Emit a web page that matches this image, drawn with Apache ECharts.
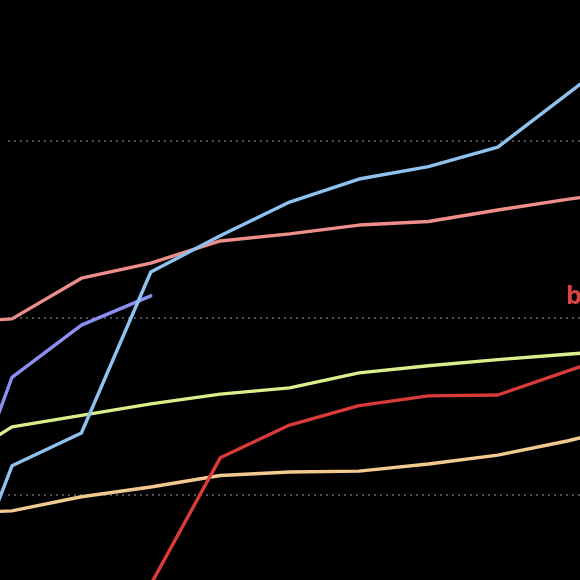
<!DOCTYPE html>
<html>
<head>
<meta charset="utf-8">
<script src="https://cdn.jsdelivr.net/npm/echarts@6/dist/echarts.min.js"></script>
<style>
html,body{margin:0;padding:0;background:#000;width:580px;height:580px;overflow:hidden;position:relative;}
#chart{position:absolute;left:-80px;top:-40px;width:740px;height:720px;}
</style>
</head>
<body>
<div id="chart"></div>
<script>
// x positions (index steps); 0 and 10 lie just outside the visible window
var xIndex = [0, 1, 2, 3, 4, 5, 6, 7, 8, 9, 10];
var pinkValues   = [39.4, 39.9, 44.5, 46.2, 48.7, 49.5, 50.5, 50.9, 52.2, 53.4, 54.5];
var blueValues   = [2.9, 23.3, 27.0, 45.2, 49.3, 53.1, 55.7, 57.1, 59.3, 65.3, 71.3];
var purpleValues = [11.9, 33.3, 39.2, 42.5, null, null, null, null, null, null, null];
var greenValues  = [22.8, 27.7, 29.0, 30.3, 31.4, 32.1, 33.8, 34.6, 35.3, 35.9, 36.5];
var tanValues    = [17.9, 18.2, 19.8, 20.9, 22.2, 22.6, 22.7, 23.5, 24.5, 26.1, 28.0];
var redValues    = [null, null, null, 9.9, 24.2, 27.9, 30.1, 31.2, 31.3, 34.0, 36.6];
var yTicks = [0, 20, 40, 60, 80];
var labelText = 'b';

function pairs(vals){
  var out = [];
  for (var i = 0; i < xIndex.length; i++) {
    out.push([xIndex[i], vals[i]]);
  }
  return out;
}
function mk(name, vals, color){
  return {
    name: name, type: 'line', data: pairs(vals),
    xAxisIndex: 0, yAxisIndex: 0,
    showSymbol: false, symbol: 'none', connectNulls: false,
    lineStyle: {color: color, width: 3.4, cap: 'round', join: 'round'}, itemStyle: {color: color},
    emphasis: {disabled: true}, silent: true
  };
}
var chart = echarts.init(document.getElementById('chart'));
chart.setOption({
  backgroundColor: '#000',
  animation: false,
  grid: [
    {left: 0, right: 0, top: 0, bottom: 0},
    {left: 88, right: 0, top: 4, bottom: 8}
  ],
  xAxis: [
    {gridIndex: 0, type: 'value', min: -0.3256, max: 10.337, show: false},
    {gridIndex: 1, type: 'value', min: 0, max: 1, show: false}
  ],
  yAxis: [
    {gridIndex: 0, type: 'value', min: -0.904, max: 80.45, show: false, splitLine: {show: false}},
    {gridIndex: 1, type: 'value', min: yTicks[0], max: yTicks[yTicks.length - 1], interval: 20,
     axisLine: {show: false}, axisTick: {show: false}, axisLabel: {show: false},
     splitLine: {show: true, lineStyle: {color: '#6a6a6a', width: 1.6, type: [2, 4]}}}
  ],
  graphic: [{
    type: 'text', left: 646, top: 324,
    style: {text: labelText, fill: '#d94444', font: 'bold 25px "Open Sans", sans-serif'}
  }],
  series: [
    mk('tan', tanValues, '#f2c98f'),
    mk('green', greenValues, '#d9ef8c'),
    mk('purple', purpleValues, '#8a8ff0'),
    mk('pink', pinkValues, '#ee8e8b'),
    mk('blue', blueValues, '#8fc2ef'),
    mk('red', redValues, '#d93a3a')
  ]
});
</script>
</body>
</html>
